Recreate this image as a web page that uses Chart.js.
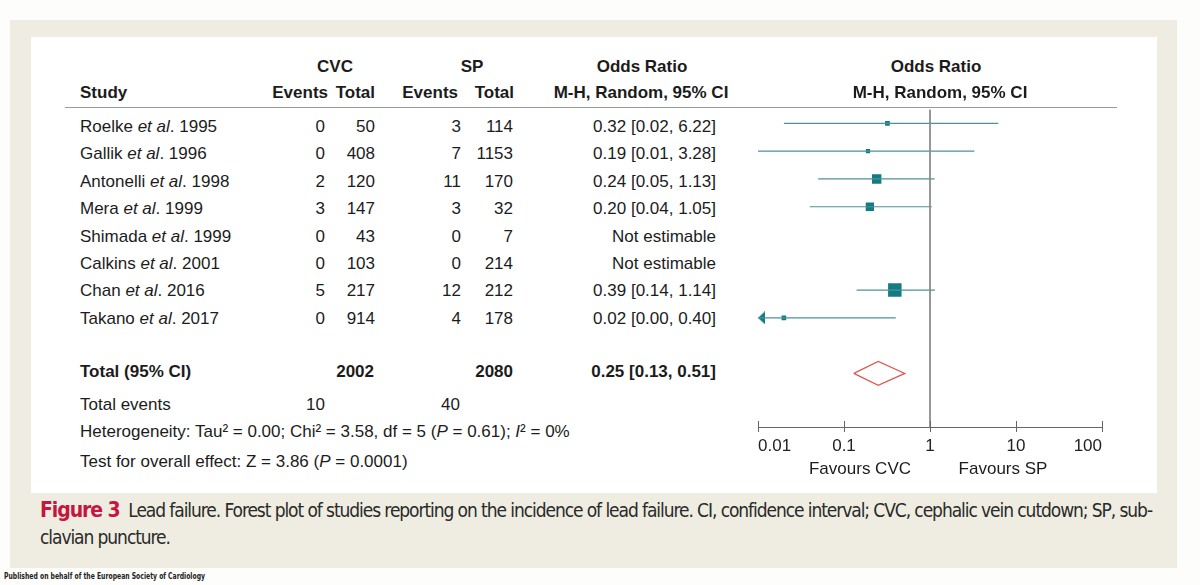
<!DOCTYPE html>
<html><head><meta charset="utf-8">
<script src="https://cdn.jsdelivr.net/npm/chart.js@4.4.0/dist/chart.umd.min.js"></script>
<style>
html,body{margin:0;padding:0;background:#fdfdfb;width:1200px;height:585px;overflow:hidden;position:relative;font-family:"Liberation Sans",Arial,sans-serif;color:#1c1c1c}
#panel{position:absolute;left:10px;top:20px;width:1167px;height:548px;background:#efede1}
#inner{position:absolute;left:31px;top:37px;width:1126px;height:456px;background:#fff}
#hline{position:absolute;left:65px;top:107px;width:1052px;height:1px;background:#9a9a9a}
.t{position:absolute;font-size:17px;line-height:20px;white-space:nowrap}
.b{font-weight:bold}
#chartBox{position:absolute;left:740px;top:100px;width:380px;height:370px}
.cap{position:absolute;left:40px;font-family:"Liberation Sans Narrow","DejaVu Sans Condensed",sans-serif;font-size:19px;line-height:24px;white-space:nowrap;color:#2a2a2a}
.cap b{color:#c4163f;font-size:21px}
#pub{position:absolute;left:4px;top:571px;font-family:"Liberation Sans Narrow","DejaVu Sans Condensed",sans-serif;font-weight:bold;font-size:9px;line-height:11px;white-space:nowrap;color:#222;transform-origin:left top}
</style></head>
<body>
<div id="panel"></div>
<div id="inner"></div>
<div id="hline"></div>
<div id="chartBox"><canvas id="c" width="380" height="370"></canvas></div>
<div class="cap" id="cap1" style="top:498px"><b>Figure 3</b>&nbsp; Lead failure. Forest plot of studies reporting on the incidence of lead failure. CI, confidence interval; CVC, cephalic vein cutdown; SP, sub-</div>
<div class="cap" id="cap2" style="top:525px">clavian puncture.</div>
<div id="pub">Published on behalf of the European Society of Cardiology</div>
<script>
// ---- data ----
const studies = ["Roelke", "Gallik", "Antonelli", "Mera", "Shimada", "Calkins", "Chan", "Takano"];
const years = [1995, 1996, 1998, 1999, 1999, 2001, 2016, 2017];
const cvcEvents = [0, 0, 2, 3, 0, 0, 5, 0];
const cvcTotal = [50, 408, 120, 147, 43, 103, 217, 914];
const spEvents = [3, 7, 11, 3, 0, 0, 12, 4];
const spTotal = [114, 1153, 170, 32, 7, 214, 212, 178];
const oddsRatio = [0.32, 0.19, 0.24, 0.20, null, null, 0.39, 0.02];
const ciLow = [0.02, 0.01, 0.05, 0.04, null, null, 0.14, 0.00];
const ciHigh = [6.22, 3.28, 1.13, 1.05, null, null, 1.14, 0.40];
const weights = [5.6, 4.5, 22.0, 17.2, 0, 0, 45.3, 5.4];
const totalOR = 0.25, totalLow = 0.13, totalHigh = 0.51;
const totalCVC = 2002, totalSP = 2080, eventsCVC = 10, eventsSP = 40;
const tickValues = [0.01, 0.1, 1, 10, 100];
const tickLabels = ["0.01", "0.1", "1", "10", "100"];

// ---- table text ----
function put(html, x, base, align, cls) {
  const d = document.createElement('div');
  d.className = 't ' + (cls || '');
  d.innerHTML = html;
  d.style.left = x + 'px';
  d.style.top = (base - 16) + 'px';
  if (align === 'right') d.style.transform = 'translateX(-100%)';
  else if (align === 'center') d.style.transform = 'translateX(-50%)';
  document.body.appendChild(d);
}
const f2 = v => v.toFixed(2);
put('CVC', 335, 73, 'center', 'b');
put('SP', 472, 73, 'center', 'b');
put('Odds Ratio', 642, 73, 'center', 'b');
put('Odds Ratio', 936, 73, 'center', 'b');
put('Study', 80, 99, 'left', 'b');
put('Events', 328, 99, 'right', 'b');
put('Total', 375, 99, 'right', 'b');
put('Events', 458, 99, 'right', 'b');
put('Total', 514, 99, 'right', 'b');
put('M-H, Random, 95% CI', 641, 99, 'center', 'b');
put('M-H, Random, 95% CI', 940, 99, 'center', 'b');
studies.forEach((s, i) => {
  const base = 133 + i * 27.4;
  put(s + ' <i>et al</i>. ' + years[i], 80, base, 'left');
  put(String(cvcEvents[i]), 325, base, 'right');
  put(String(cvcTotal[i]), 375, base, 'right');
  put(String(spEvents[i]), 461, base, 'right');
  put(String(spTotal[i]), 513, base, 'right');
  put(oddsRatio[i] == null ? 'Not estimable' : f2(oddsRatio[i]) + ' [' + f2(ciLow[i]) + ', ' + f2(ciHigh[i]) + ']', 716, base, 'right');
});
put('Total (95% CI)', 80, 378, 'left', 'b');
put(String(totalCVC), 374, 378, 'right', 'b');
put(String(totalSP), 513, 378, 'right', 'b');
put(f2(totalOR) + ' [' + f2(totalLow) + ', ' + f2(totalHigh) + ']', 716, 378, 'right', 'b');
put('Total events', 80, 411, 'left');
put(String(eventsCVC), 325, 411, 'right');
put(String(eventsSP), 460, 411, 'right');
put('Heterogeneity: Tau² = 0.00; Chi² = 3.58, df = 5 (<i>P</i> = 0.61); <i>I</i>² = 0%', 80, 438, 'left');
put('Test for overall effect: Z = 3.86 (<i>P</i> = 0.0001)', 80, 468, 'left');
put('Favours CVC', 860, 475, 'center');
put('Favours SP', 1003, 475, 'center');

// fit caption width
(function () {
  const c1 = document.getElementById('cap1'), c2 = document.getElementById('cap2');
  const w = c1.getBoundingClientRect().width;
  const n = c1.textContent.length;
  const ls = (1112 - w) / n;
  c1.style.letterSpacing = ls + 'px';
  c2.style.letterSpacing = ls + 'px';
  const p = document.getElementById('pub');
  p.style.transform = 'scaleX(' + (201 / p.getBoundingClientRect().width) + ')';
})();

// ---- chart ----
const teal = '#137b82', whisk = '#4e9298', red = '#de5550';
const xMin = tickValues[0], xMax = tickValues[tickValues.length - 1];
const yTop = -0.5, yBottom = 10.93, totalRow = 9;

const arrow = document.createElement('canvas');
arrow.width = 16; arrow.height = 13;
(function () {
  const a = arrow.getContext('2d');
  a.fillStyle = teal;
  a.beginPath(); a.moveTo(8, 6.5); a.lineTo(15, 0); a.lineTo(15, 13); a.closePath(); a.fill();
})();

const datasets = [];
datasets.push({ data: [{ x: 1, y: yTop }, { x: 1, y: yBottom }], showLine: true, borderColor: '#8a8a8a', borderWidth: 1, pointRadius: 0 });
studies.forEach((s, i) => {
  if (oddsRatio[i] == null) return;
  datasets.push({ data: [{ x: Math.max(ciLow[i], xMin), y: i }, { x: ciHigh[i], y: i }], showLine: true, borderColor: whisk, borderWidth: 1.2, pointRadius: 0 });
});
const sq = [], sqR = [];
studies.forEach((s, i) => {
  if (oddsRatio[i] == null) return;
  sq.push({ x: oddsRatio[i], y: i });
  sqR.push(2.0 * Math.sqrt(weights[i]) / Math.SQRT2);
});
datasets.push({ data: sq, pointStyle: 'rect', pointRadius: sqR, backgroundColor: teal, borderWidth: 0, showLine: false });
const arr = [];
studies.forEach((s, i) => { if (oddsRatio[i] != null && ciLow[i] < xMin) arr.push({ x: xMin, y: i }); });
datasets.push({ data: arr, pointStyle: arrow, pointRadius: 8, showLine: false, clip: false });
const dh = 0.43;
datasets.push({ data: [{ x: totalLow, y: totalRow }, { x: totalOR, y: totalRow - dh }, { x: totalHigh, y: totalRow }, { x: totalOR, y: totalRow + dh }, { x: totalLow, y: totalRow }],
  showLine: true, borderColor: red, borderWidth: 1.2, pointRadius: 0, fill: false, tension: 0 });

const upTicks = {
  id: 'upTicks',
  afterDraw(c) {
    const s = c.scales.x, ctx = c.ctx;
    ctx.save(); ctx.strokeStyle = '#666'; ctx.lineWidth = 1;
    tickValues.forEach(v => {
      const px = Math.round(s.getPixelForValue(v)) + 0.5;
      ctx.beginPath(); ctx.moveTo(px, s.top); ctx.lineTo(px, s.top - 6); ctx.stroke();
    });
    ctx.restore();
  }
};

new Chart(document.getElementById('c'), {
  type: 'scatter',
  data: { datasets },
  plugins: [upTicks],
  options: {
    responsive: false, animation: false, devicePixelRatio: 1,
    layout: { padding: { left: 18, right: 18, top: 7, bottom: 0 } },
    plugins: { legend: { display: false }, tooltip: { enabled: false } },
    scales: {
      x: {
        type: 'logarithmic', min: xMin, max: xMax,
        afterBuildTicks: s => { s.ticks = tickValues.map(v => ({ value: v })); },
        afterFit: s => { s.height = 43; },
        grid: { drawOnChartArea: false, drawTicks: true, tickLength: 5, color: '#666', lineWidth: 1 },
        border: { display: true, color: '#666', width: 1 },
        ticks: { align: 'inner', autoSkip: false, maxRotation: 0, padding: 4, color: '#222',
          font: { family: 'Liberation Sans', size: 17 },
          callback: (v, i) => tickLabels[i] }
      },
      y: { type: 'linear', reverse: true, min: yTop, max: yBottom, display: false }
    }
  }
});
</script>
</body></html>
